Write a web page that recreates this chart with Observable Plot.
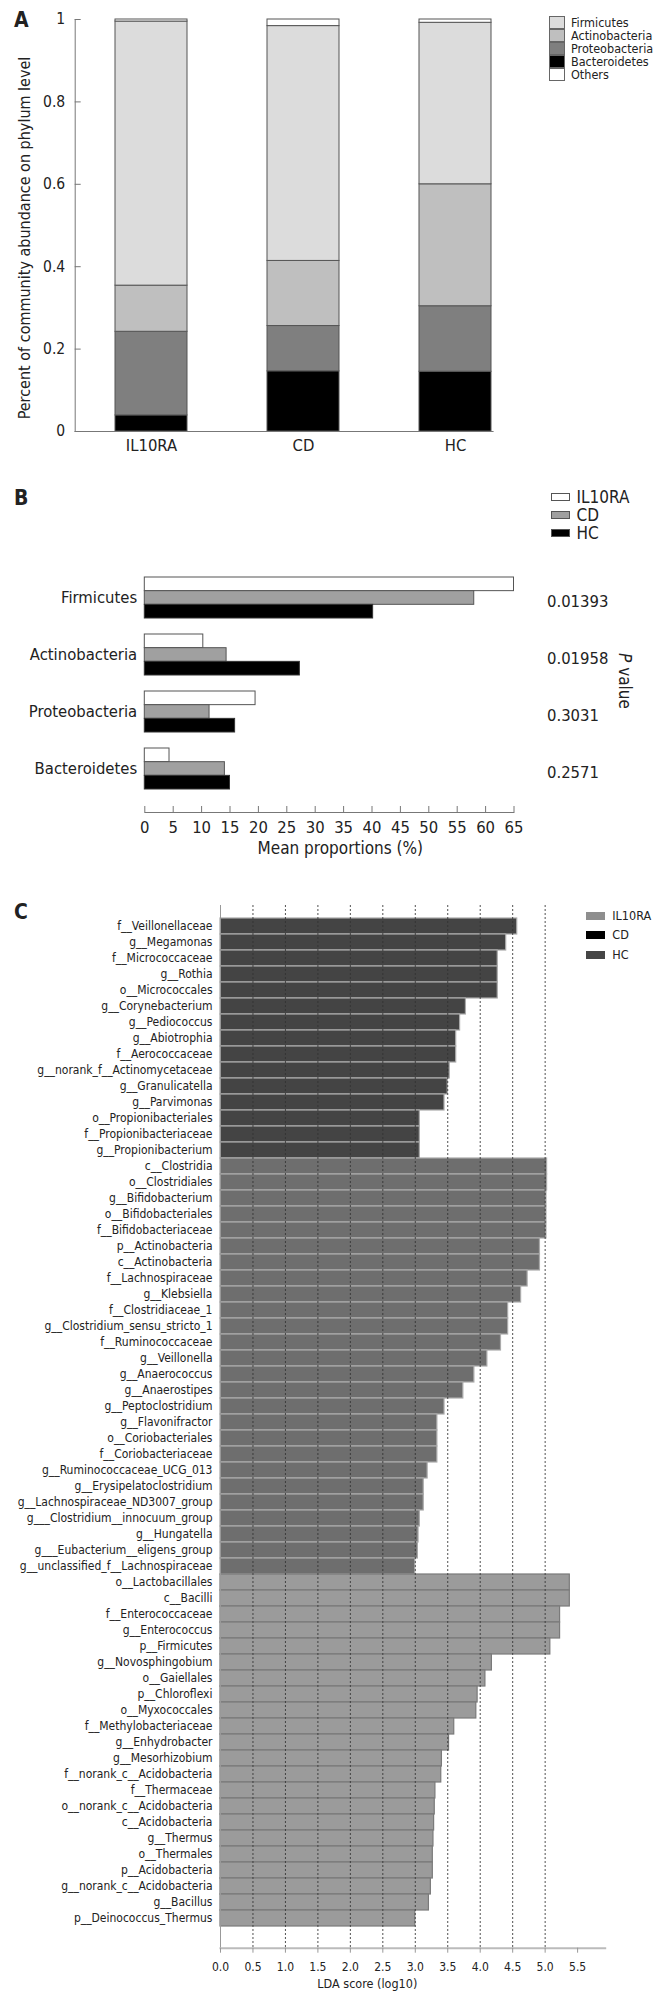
<!DOCTYPE html>
<html><head><meta charset="utf-8">
<script src="https://cdn.jsdelivr.net/npm/d3@7"></script>
<script src="https://cdn.jsdelivr.net/npm/@observablehq/plot@0.6"></script>
<style>
body{margin:0;background:#fff;}
#page{position:relative;width:667px;height:2002px;overflow:hidden;font-family:"DejaVu Sans Condensed","DejaVu Sans",sans-serif;font-stretch:condensed;color:#222;}
#page svg{position:absolute;left:0;}
.t{position:absolute;white-space:nowrap;line-height:1;}
.sw{position:absolute;box-sizing:border-box;}
</style></head><body><div id="page"></div>
<script>
// ---------- Panel A data ----------
const samplesA = ["IL10RA", "CD", "HC"];
const phylaA = ["Bacteroidetes", "Proteobacteria", "Actinobacteria", "Firmicutes", "Others"];
const abundIL10RA = [0.039, 0.203, 0.112, 0.641, 0.005];
const abundCD = [0.146, 0.110, 0.158, 0.570, 0.016];
const abundHC = [0.145, 0.159, 0.296, 0.392, 0.008];
const yTicksA = [0, 0.2, 0.4, 0.6, 0.8, 1];
const legendA = ["Firmicutes", "Actinobacteria", "Proteobacteria", "Bacteroidetes", "Others"];

// ---------- Panel B data ----------
const phylaB = ["Firmicutes", "Actinobacteria", "Proteobacteria", "Bacteroidetes"];
const meanIL10RA = [65.0, 10.3, 19.5, 4.35];
const meanCD = [58.0, 14.4, 11.4, 14.1];
const meanHC = [40.2, 27.3, 15.9, 15.0];
const pValuesB = ["0.01393", "0.01958", "0.3031", "0.2571"];
const xTicksB = [0, 5, 10, 15, 20, 25, 30, 35, 40, 45, 50, 55, 60, 65];

// ---------- Panel C data ----------
const hcTaxa = ["f__Veillonellaceae","g__Megamonas","f__Micrococcaceae","g__Rothia","o__Micrococcales","g__Corynebacterium","g__Pediococcus","g__Abiotrophia","f__Aerococcaceae","g__norank_f__Actinomycetaceae","g__Granulicatella","g__Parvimonas","o__Propionibacteriales","f__Propionibacteriaceae","g__Propionibacterium"];
const hcLDA = [4.57, 4.40, 4.27, 4.27, 4.27, 3.78, 3.69, 3.63, 3.63, 3.53, 3.50, 3.45, 3.07, 3.07, 3.07];
const cdTaxa = ["c__Clostridia","o__Clostridiales","g__Bifidobacterium","o__Bifidobacteriales","f__Bifidobacteriaceae","p__Actinobacteria","c__Actinobacteria","f__Lachnospiraceae","g__Klebsiella","f__Clostridiaceae_1","g__Clostridium_sensu_stricto_1","f__Ruminococcaceae","g__Veillonella","g__Anaerococcus","g__Anaerostipes","g__Peptoclostridium","g__Flavonifractor","o__Coriobacteriales","f__Coriobacteriaceae","g__Ruminococcaceae_UCG_013","g__Erysipelatoclostridium","g__Lachnospiraceae_ND3007_group","g___Clostridium__innocuum_group","g__Hungatella","g___Eubacterium__eligens_group","g__unclassified_f__Lachnospiraceae"];
const cdLDA = [5.03, 5.03, 5.02, 5.02, 5.02, 4.92, 4.92, 4.73, 4.63, 4.43, 4.43, 4.32, 4.11, 3.91, 3.74, 3.45, 3.34, 3.34, 3.34, 3.19, 3.13, 3.13, 3.07, 3.05, 3.04, 3.00];
const il10raTaxa = ["o__Lactobacillales","c__Bacilli","f__Enterococcaceae","g__Enterococcus","p__Firmicutes","g__Novosphingobium","o__Gaiellales","p__Chloroflexi","o__Myxococcales","f__Methylobacteriaceae","g__Enhydrobacter","g__Mesorhizobium","f__norank_c__Acidobacteria","f__Thermaceae","o__norank_c__Acidobacteria","c__Acidobacteria","g__Thermus","o__Thermales","p__Acidobacteria","g__norank_c__Acidobacteria","g__Bacillus","p__Deinococcus_Thermus"];
const il10raLDA = [5.38, 5.38, 5.23, 5.23, 5.08, 4.18, 4.08, 3.96, 3.94, 3.60, 3.52, 3.41, 3.40, 3.31, 3.30, 3.29, 3.28, 3.27, 3.27, 3.24, 3.21, 3.00];
const xTicksC = [0, 0.5, 1, 1.5, 2, 2.5, 3, 3.5, 4, 4.5, 5, 5.5];
const gridC = [0.5, 1, 1.5, 2, 2.5, 3, 3.5, 4, 4.5, 5];
const legendC = ["IL10RA", "CD", "HC"];

// ---------- styles ----------
const FONT = '"DejaVu Sans Condensed","DejaVu Sans",sans-serif';
const colorsA = ["#000000", "#7f7f7f", "#bfbfbf", "#dcdcdc", "#ffffff"];
const colorOfA = Object.fromEntries(phylaA.map((p, i) => [p, colorsA[i]]));
const barStyleC = {HC: {fill: "#444444", stroke: "#aaaaaa"}, CD: {fill: "#6e6e6e", stroke: "#aaaaaa"}, IL10RA: {fill: "#9b9b9b", stroke: "#7a7a7a"}};
const legendColorC = {IL10RA: "#8e8e8e", CD: "#000000", HC: "#454545"};

const page = document.getElementById("page");
function txt(html, x, y, o = {}) {
  const d = document.createElement("div");
  d.className = "t";
  d.innerHTML = html;
  d.style.left = x + "px";
  d.style.top = y + "px";
  d.style.fontSize = (o.size || 14) + "px";
  if (o.weight) d.style.fontWeight = o.weight;
  const ax = o.anchor === "middle" ? "-50%" : o.anchor === "end" ? "-100%" : "0";
  d.style.transform = `translate(${ax},-50%)` + (o.rotate ? ` rotate(${o.rotate}deg)` : "");
  page.appendChild(d);
}
function swatch(x, y, w, h, fill, border) {
  const d = document.createElement("div");
  d.className = "sw";
  Object.assign(d.style, {left: x + "px", top: y + "px", width: w + "px", height: h + "px", background: fill, border: border ? `1px solid ${border}` : "none"});
  page.appendChild(d);
}

// ---------- Panel A ----------
const abundA = [abundIL10RA, abundCD, abundHC];
const rowsA = [];
samplesA.forEach((s, i) => phylaA.forEach((p, j) => rowsA.push({sample: s, phylum: p, value: abundA[i][j]})));

const plotA = Plot.plot({
  width: 667, height: 470,
  marginLeft: 74.7, marginRight: 174.4, marginTop: 19, marginBottom: 39,
  style: {fontFamily: FONT, fontStretch: "condensed", color: "#222", background: "transparent"},
  x: {domain: samplesA, range: [114.6, 490.4], paddingInner: 0.528, paddingOuter: 0, label: null},
  y: {domain: [0, 1], label: null},
  color: {domain: phylaA, range: colorsA},
  marks: [
    Plot.barY(rowsA, {x: "sample", y: "value", fill: "phylum", stroke: "#555", strokeWidth: 1}),
    Plot.frame({anchor: "left", stroke: "#777"}),
    Plot.frame({anchor: "bottom", stroke: "#777"}),
    Plot.axisY({ticks: yTicksA, tickFormat: d => String(d), tickSize: 6, dx: 6, tickPadding: 10, fontSize: 15.5, stroke: "#777", label: null}),
    Plot.axisX({tickSize: 0, tickPadding: 8, fontSize: 16.5, label: null})
  ]
});
plotA.style.top = "0px";
page.appendChild(plotA);

txt("A", 14, 20, {size: 21, weight: "bold"});
txt("Percent of community abundance on phylum level", 24.5, 238, {size: 16, anchor: "middle", rotate: -90});
legendA.forEach((p, i) => {
  swatch(549, 16 + i * 13, 15.7, 13, colorOfA[p], "#666");
  txt(p, 571, 22.5 + i * 13, {size: 12.5});
});

// ---------- Panel B ----------
const rowsB = phylaB.map((p, i) => ({phylum: p, IL10RA: meanIL10RA[i], CD: meanCD[i], HC: meanHC[i], p: pValuesB[i]}));
const hB = 13.68;
const plotB = Plot.plot({
  width: 667, height: 400,
  marginLeft: 144.3, marginRight: 153.5, marginTop: 84, marginBottom: 58,
  style: {fontFamily: FONT, fontStretch: "condensed", color: "#222", background: "transparent"},
  x: {domain: [0, 65], label: null},
  y: {domain: phylaB, paddingInner: 0.288, paddingOuter: 0.382, label: null},
  marks: [
    Plot.barX(rowsB, {x: "IL10RA", y: "phylum", fill: "#ffffff", stroke: "#555", insetBottom: 2 * hB}),
    Plot.barX(rowsB, {x: "CD", y: "phylum", fill: "#a0a0a0", stroke: "#555", insetTop: hB, insetBottom: hB}),
    Plot.barX(rowsB, {x: "HC", y: "phylum", fill: "#000000", stroke: "#333", insetTop: 2 * hB}),
    Plot.frame({anchor: "bottom", stroke: "#777"}),
    Plot.axisX({ticks: xTicksB, tickSize: 6, dy: -6, tickPadding: 9, fontSize: 16.5, stroke: "#777", label: null}),
    Plot.axisY({tickSize: 0, tickPadding: 7.6, fontSize: 16.5, label: null}),
    Plot.text(rowsB, {y: "phylum", text: "p", frameAnchor: "right", dx: 33, dy: 4, textAnchor: "start", fontSize: 16.5})
  ]
});
plotB.style.top = "470px";
page.appendChild(plotB);

txt("B", 14, 498, {size: 21, weight: "bold"});
["IL10RA", "CD", "HC"].forEach((g, i) => {
  const fill = g === "IL10RA" ? "#ffffff" : g === "CD" ? "#a0a0a0" : "#000000";
  swatch(550.7, 493 + i * 18, 19.6, 8, fill, "#555");
  txt(g, 576.6, 497 + i * 18, {size: 17});
});
txt('<i>P</i> value', 624, 680.5, {size: 17, anchor: "middle", rotate: 90});
txt("Mean proportions (%)", 340.3, 848, {size: 17, anchor: "middle"});

// ---------- Panel C ----------
const rowsC = [
  ...hcTaxa.map((t, i) => ({taxon: t, lda: hcLDA[i], group: "HC"})),
  ...cdTaxa.map((t, i) => ({taxon: t, lda: cdLDA[i], group: "CD"})),
  ...il10raTaxa.map((t, i) => ({taxon: t, lda: il10raLDA[i], group: "IL10RA"}))
];
const plotC = Plot.plot({
  width: 667, height: 1132,
  marginLeft: 220, marginRight: 62.3, marginTop: 35, marginBottom: 54.3,
  style: {fontFamily: FONT, fontStretch: "condensed", color: "#222", background: "transparent"},
  x: {domain: [0, 5.925], label: null},
  y: {domain: rowsC.map(d => d.taxon), range: [35, 1068.3], padding: 0, label: null},
  marks: [
    ...["HC", "CD", "IL10RA"].map(g => Plot.barX(rowsC.filter(d => d.group === g), {x: "lda", y: "taxon", fill: barStyleC[g].fill, stroke: barStyleC[g].stroke, strokeWidth: 1.2})),
    Plot.ruleX(gridC, {stroke: "#333", strokeDasharray: "2,2", strokeOpacity: 0.85}),
    Plot.ruleX([0], {stroke: "#999"}),
    Plot.frame({anchor: "bottom", stroke: "#bbb", strokeWidth: 2}),
    Plot.axisX({ticks: xTicksC, tickFormat: d3.format(".1f"), tickSize: 5, tickPadding: 9, fontSize: 12, stroke: "#999", label: null}),
    Plot.axisY({tickSize: 0, tickPadding: 8, fontSize: 12, label: null})
  ]
});
plotC.style.top = "870px";
page.appendChild(plotC);

txt("C", 14, 912, {size: 21, weight: "bold"});
legendC.forEach((g, i) => {
  swatch(586, 911.5 + i * 19.9, 19, 8, legendColorC[g], null);
  txt(g, 612.3, 915.5 + i * 19.9, {size: 12.5});
});
txt("LDA score (log10)", 367.3, 1984.3, {size: 12.5, anchor: "middle"});
</script></body></html>
